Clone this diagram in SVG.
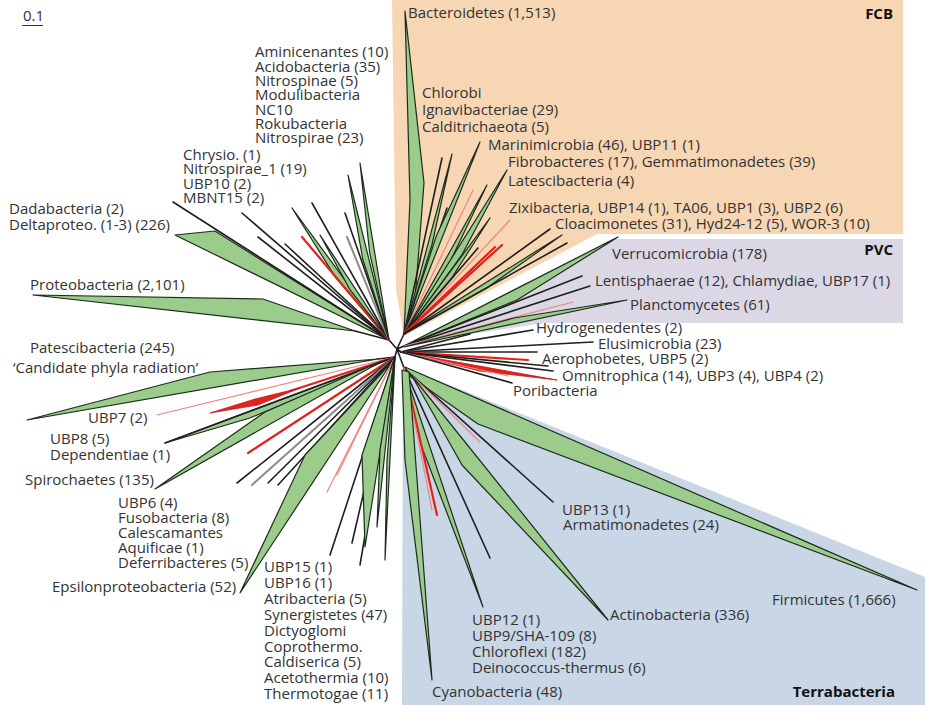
<svg xmlns="http://www.w3.org/2000/svg" width="928" height="705" viewBox="0 0 928 705">
<style>
.t{font-family:"Open Sans","Liberation Sans",sans-serif;font-size:15px;fill:#333}
.h{font-family:"Open Sans","Liberation Sans",sans-serif;font-size:15px;font-weight:700;fill:#111}
.e{text-anchor:end}
.k{stroke:#1f1f1f;stroke-width:1.6;fill:none;stroke-linecap:round}
.y{stroke:#8c8c8c;stroke-width:2;fill:none;stroke-linecap:round}
.r{stroke:#e2231a;stroke-width:2.2;fill:none;stroke-linecap:round}
.p{stroke:#f08585;stroke-width:1.2;fill:none;stroke-linecap:round}
.w{fill:#9bcc8b;stroke:#1d2b1d;stroke-width:1.2;stroke-linejoin:round}
.wr{fill:#e2231a;stroke:#c4161c;stroke-width:0.8;stroke-linejoin:round}
</style>
<g id="clades">
<polygon fill="#f7d6b3" points="392,0 903,0 903,234 597,234 404,336 396,290"/>
<polygon fill="#dcd7e4" points="406,344 612,239 903,239 903,323 545,323"/>
<polygon fill="#c8d6e5" points="403,366 925,577 925,705 402,705"/>
</g>
<g id="scale">
<text class="t" x="23" y="21">0.1</text>
<line x1="22" y1="25.5" x2="43" y2="25.5" stroke="#333" stroke-width="1"/>
</g>
<g id="connectors">
<path class="k" d="M397,349 L389,340 M397,349 L404,334 M397,349 L404,346 M397,349 L401,352 M397,349 L404,368 M397,349 L395,357"/>
<!-- upper left -->
<polygon class="w" points="355,331 263,299 33,295"/>
<path class="k" d="M355,331 L389,340"/>
<polygon class="w" points="389,340 215,231 175,235"/>
<line class="k" x1="389" y1="340" x2="173" y2="202"/>
<line class="k" x1="389" y1="340" x2="242" y2="213"/>
<line class="k" x1="389" y1="340" x2="258" y2="237"/>
<line class="k" x1="389" y1="340" x2="285" y2="244"/>
<polygon class="w" points="389,340 335.7,277.6 292,208"/>
<line class="r" x1="389" y1="340" x2="302" y2="237" stroke-width="2.6"/>
<line class="k" x1="389" y1="340" x2="312" y2="203"/>
<polygon class="w" points="389,340 350.3,290.2 320,235"/>
<line class="k" x1="389" y1="340" x2="345" y2="213"/>
<line class="y" x1="389" y1="340" x2="347" y2="237"/>
<polygon class="w" points="389,340 362.7,259 348,175"/>
<polygon class="w" points="389,340 369.6,252.3 360,163"/>
<!-- FCB -->
<polygon class="w" points="404,334 410,200 405,11 424,183 415,300"/>
<line class="k" x1="404" y1="334" x2="442" y2="158"/>
<polygon class="w" points="404,334 431.9,245 452,154"/>
<line class="k" x1="404" y1="334" x2="447" y2="208"/>
<polygon class="w" points="404,334 436.4,235.8 480,142"/>
<line class="p" x1="404" y1="334" x2="473" y2="190"/>
<polygon class="w" points="404,334 449.9,261.9 487,185"/>
<polygon class="w" points="404,334 461.4,255.7 507,170"/>
<polygon class="w" points="404,334 451,279 490,218"/>
<line class="p" x1="404" y1="334" x2="510" y2="220"/>
<line class="k" x1="404" y1="334" x2="478" y2="248"/>
<line class="r" x1="404" y1="334" x2="495" y2="247"/>
<line class="r" x1="404" y1="334" x2="502" y2="245"/>
<line class="k" x1="404" y1="334" x2="550" y2="229"/>
<polygon class="w" points="404,334 485.7,288.7 562,235"/>
<line class="k" x1="404" y1="334" x2="567" y2="243"/>
<!-- PVC -->
<polygon class="w" points="404,346 517,300 618,237"/>
<line class="k" x1="404" y1="346" x2="582" y2="276"/>
<line class="k" x1="404" y1="346" x2="590" y2="286"/>
<line class="p" x1="404" y1="346" x2="573" y2="302"/>
<polygon class="w" points="404,347 514,318 627,300"/>
<!-- right group -->
<line class="k" x1="401" y1="352" x2="470" y2="334"/>
<line class="k" x1="401" y1="352" x2="533" y2="330"/>
<line class="k" x1="401" y1="352" x2="593" y2="342"/>
<line class="k" x1="401" y1="352" x2="537" y2="352"/>
<line class="r" x1="401" y1="352" x2="528" y2="360" stroke-width="1.6"/>
<line class="k" x1="401" y1="352" x2="548" y2="366"/>
<polygon class="wr" points="401,352 480,371 557,380"/>
<line class="k" x1="401" y1="352" x2="553" y2="371"/>
<line class="p" x1="401" y1="352" x2="508" y2="376"/>
<line class="k" x1="401" y1="352" x2="512" y2="383"/>
<!-- Terrabacteria -->
<polygon class="w" points="405,367 917,590 478,424 411,377"/>
<line class="k" x1="404" y1="368" x2="553" y2="502"/>
<line class="p" x1="404" y1="368" x2="480" y2="442"/>
<path class="k" d="M404,368 L412,376"/>
<polygon class="w" points="412,376 608,620 462,465"/>
<line class="k" x1="404" y1="368" x2="490" y2="558"/>
<polygon class="w" points="405,372 421,445 483,607"/>
<line class="r" x1="404" y1="368" x2="437" y2="515" stroke-width="1.6"/>
<line class="p" x1="404" y1="368" x2="432" y2="510"/>
<polygon class="w" points="402,370 405,460 432,680 409,372"/>
<!-- lower left -->
<polygon class="w" points="378,359 210,372 27,420"/>
<path class="k" d="M378,359 L395,357"/>
<line class="p" x1="395" y1="357" x2="157" y2="415"/>
<line class="r" x1="395" y1="357" x2="290" y2="391" stroke-width="1.4"/>
<polygon class="wr" points="210,413 255,399 300,388 258,405"/>
<polygon class="w" points="385,361 250,418 165,443"/>
<line class="k" x1="395" y1="357" x2="165" y2="443"/>
<polygon class="w" points="382,361 265,412 155,489"/>
<line class="r" x1="395" y1="357" x2="248" y2="453" stroke-width="1.8"/>
<line class="k" x1="395" y1="357" x2="237" y2="483"/>
<line class="y" x1="395" y1="357" x2="252" y2="485" stroke-width="1.4"/>
<line class="k" x1="395" y1="357" x2="268" y2="483"/>
<line class="k" x1="395" y1="357" x2="278" y2="485"/>
<polygon class="w" points="392,362 305,455 240,593"/>
<line class="p" x1="395" y1="357" x2="327" y2="492"/>
<line class="p" x1="395" y1="357" x2="337" y2="475"/>
<line class="k" x1="395" y1="357" x2="330" y2="555"/>
<line class="k" x1="395" y1="357" x2="352" y2="543"/>
<line class="k" x1="395" y1="357" x2="360" y2="565"/>
<polygon class="w" points="395,357 362,455 365,547"/>
<polygon class="w" points="395,357 380,450 377,527"/>
<polygon class="w" points="395,357 387,460 385,560"/>
</g>
<g id="n-aminicenantes"><text class="t" x="255" y="57">Aminicenantes (10)</text></g>
<g id="n-acidobacteria"><text class="t" x="255" y="71.5">Acidobacteria (35)</text></g>
<g id="n-nitrospinae"><text class="t" x="255" y="86">Nitrospinae (5)</text></g>
<g id="n-modulibacteria"><text class="t" x="255" y="100">Modulibacteria</text></g>
<g id="n-nc10"><text class="t" x="255" y="114.5">NC10</text></g>
<g id="n-rokubacteria"><text class="t" x="255" y="129">Rokubacteria</text></g>
<g id="n-nitrospirae"><text class="t" x="255" y="143">Nitrospirae (23)</text></g>
<g id="n-chrysio"><text class="t" x="183" y="159.5">Chrysio. (1)</text></g>
<g id="n-nitrospirae1"><text class="t" x="183" y="174">Nitrospirae_1 (19)</text></g>
<g id="n-ubp10"><text class="t" x="183" y="188.5">UBP10 (2)</text></g>
<g id="n-mbnt15"><text class="t" x="183" y="203">MBNT15 (2)</text></g>
<g id="n-dadabacteria"><text class="t" x="9" y="213.5">Dadabacteria (2)</text></g>
<g id="n-deltaproteo"><text class="t" x="9" y="230">Deltaproteo. (1-3) (226)</text></g>
<g id="n-proteobacteria"><text class="t" x="30" y="290">Proteobacteria (2,101)</text></g>
<g id="n-patescibacteria"><text class="t" x="30" y="353">Patescibacteria (245)</text><text class="t" x="13" y="373">‘Candidate phyla radiation’</text></g>
<g id="n-ubp7"><text class="t" x="88" y="423">UBP7 (2)</text></g>
<g id="n-ubp8"><text class="t" x="50" y="444">UBP8 (5)</text></g>
<g id="n-dependentiae"><text class="t" x="50" y="460">Dependentiae (1)</text></g>
<g id="n-spirochaetes"><text class="t" x="25" y="485">Spirochaetes (135)</text></g>
<g id="n-ubp6"><text class="t" x="118" y="508">UBP6 (4)</text></g>
<g id="n-fusobacteria"><text class="t" x="118" y="523">Fusobacteria (8)</text></g>
<g id="n-calescamantes"><text class="t" x="118" y="538">Calescamantes</text></g>
<g id="n-aquificae"><text class="t" x="118" y="553">Aquificae (1)</text></g>
<g id="n-deferribacteres"><text class="t" x="118" y="568">Deferribacteres (5)</text></g>
<g id="n-epsilon"><text class="t" x="52" y="592">Epsilonproteobacteria (52)</text></g>
<g id="n-ubp15"><text class="t" x="264" y="572">UBP15 (1)</text></g>
<g id="n-ubp16"><text class="t" x="264" y="588">UBP16 (1)</text></g>
<g id="n-atribacteria"><text class="t" x="264" y="604">Atribacteria (5)</text></g>
<g id="n-synergistetes"><text class="t" x="264" y="620">Synergistetes (47)</text></g>
<g id="n-dictyoglomi"><text class="t" x="264" y="636">Dictyoglomi</text></g>
<g id="n-coprothermo"><text class="t" x="264" y="652">Coprothermo.</text></g>
<g id="n-caldiserica"><text class="t" x="264" y="667">Caldiserica (5)</text></g>
<g id="n-acetothermia"><text class="t" x="264" y="683">Acetothermia (10)</text></g>
<g id="n-thermotogae"><text class="t" x="264" y="699">Thermotogae (11)</text></g>
<g id="n-bacteroidetes"><text class="t" x="408" y="18">Bacteroidetes (1,513)</text></g>
<g id="n-chlorobi"><text class="t" x="422" y="98">Chlorobi</text></g>
<g id="n-ignavibacteriae"><text class="t" x="422" y="115">Ignavibacteriae (29)</text></g>
<g id="n-calditrichaeota"><text class="t" x="422" y="132">Calditrichaeota (5)</text></g>
<g id="n-marinimicrobia"><text class="t" x="488" y="150">Marinimicrobia (46), UBP11 (1)</text></g>
<g id="n-fibrobacteres"><text class="t" x="508" y="167">Fibrobacteres (17), Gemmatimonadetes (39)</text></g>
<g id="n-latescibacteria"><text class="t" x="508" y="186">Latescibacteria (4)</text></g>
<g id="n-zixibacteria"><text class="t" x="509" y="213">Zixibacteria, UBP14 (1), TA06, UBP1 (3), UBP2 (6)</text></g>
<g id="n-cloacimonetes"><text class="t" x="555" y="229">Cloacimonetes (31), Hyd24-12 (5), WOR-3 (10)</text></g>
<g id="g-fcb"><text class="h e" x="893" y="19">FCB</text></g>
<g id="n-verrucomicrobia"><text class="t" x="612" y="259">Verrucomicrobia (178)</text></g>
<g id="n-lentisphaerae"><text class="t" x="595" y="286">Lentisphaerae (12), Chlamydiae, UBP17 (1)</text></g>
<g id="n-planctomycetes"><text class="t" x="630" y="310">Planctomycetes (61)</text></g>
<g id="g-pvc"><text class="h e" x="893" y="255">PVC</text></g>
<g id="n-hydrogenedentes"><text class="t" x="536" y="333">Hydrogenedentes (2)</text></g>
<g id="n-elusimicrobia"><text class="t" x="598" y="349">Elusimicrobia (23)</text></g>
<g id="n-aerophobetes"><text class="t" x="542" y="364">Aerophobetes, UBP5 (2)</text></g>
<g id="n-omnitrophica"><text class="t" x="562" y="381">Omnitrophica (14), UBP3 (4), UBP4 (2)</text></g>
<g id="n-poribacteria"><text class="t" x="513" y="396">Poribacteria</text></g>
<g id="n-ubp13"><text class="t" x="562" y="515">UBP13 (1)</text></g>
<g id="n-armatimonadetes"><text class="t" x="563" y="530">Armatimonadetes (24)</text></g>
<g id="n-firmicutes"><text class="t" x="772" y="605">Firmicutes (1,666)</text></g>
<g id="n-actinobacteria"><text class="t" x="610" y="620">Actinobacteria (336)</text></g>
<g id="n-ubp12"><text class="t" x="472" y="625">UBP12 (1)</text></g>
<g id="n-ubp9"><text class="t" x="472" y="641">UBP9/SHA-109 (8)</text></g>
<g id="n-chloroflexi"><text class="t" x="472" y="657">Chloroflexi (182)</text></g>
<g id="n-deinococcus"><text class="t" x="472" y="673">Deinococcus-thermus (6)</text></g>
<g id="n-cyanobacteria"><text class="t" x="432" y="697">Cyanobacteria (48)</text></g>
<g id="g-terrabacteria"><text class="h e" x="895" y="697">Terrabacteria</text></g>
</svg>
